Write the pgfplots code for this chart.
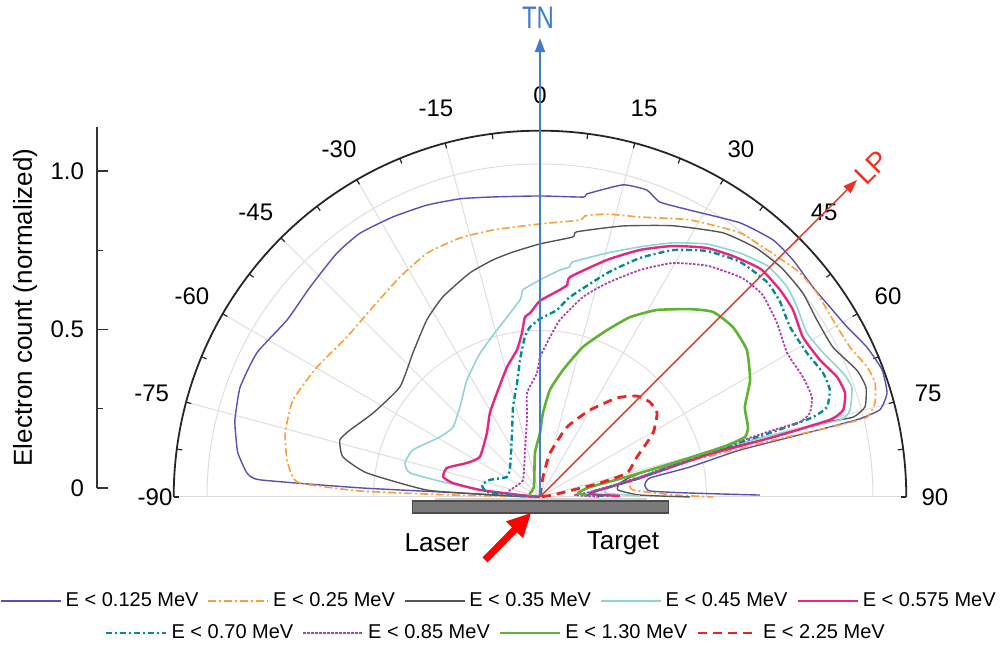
\documentclass[border=0pt]{standalone}
\usepackage{pgfplots}
\pgfplotsset{compat=1.18}
\usepackage{pgfplotstable}
\usepackage{fontspec}
\setmainfont{Liberation Sans}
\usetikzlibrary{arrows.meta}

\definecolor{cA}{RGB}{88,80,178}
\definecolor{cB}{RGB}{246,160,55}
\definecolor{cC}{RGB}{85,85,85}
\definecolor{cD}{RGB}{145,212,215}
\definecolor{cE}{RGB}{232,38,128}
\definecolor{cF}{RGB}{0,140,145}
\definecolor{cG}{RGB}{170,65,175}
\definecolor{cH}{RGB}{95,178,50}
\definecolor{cI}{RGB}{235,35,35}
\definecolor{tnblue}{RGB}{65,125,200}
\definecolor{lpred}{RGB}{235,50,40}
\definecolor{gridc}{RGB}{222,222,222}

\pgfplotsset{
  sA/.style={cA, line width=0.7pt, solid},
  sB/.style={cB, line width=0.8pt, dash pattern=on 4pt off 1.5pt on 1pt off 1.5pt},
  sC/.style={cC, line width=0.7pt, solid},
  sD/.style={cD, line width=0.8pt, solid},
  sE/.style={cE, line width=1.2pt, solid},
  sF/.style={cF, line width=1.2pt, dash pattern=on 3pt off 1.5pt on 1pt off 1.5pt},
  sG/.style={cG, line width=0.9pt, dash pattern=on 1.2pt off 0.8pt},
  sH/.style={cH, line width=1.3pt, solid},
  sI/.style={cI, line width=1.4pt, dash pattern=on 4.5pt off 3pt},
  /pgfplots/table/polarrows/.style={x expr={\thisrow{r}*sin(\thisrow{t})}, y expr={\thisrow{r}*cos(\thisrow{t})}},
}

% angle t in degrees (0 = target normal, positive to the right), r = normalized count
\pgfplotstableread{
t r
-89.5 0.00
-88.0 0.08
-87.1 0.241
-87.1 0.541
-86.5 0.842
-85.3 0.883
-81.7 0.917
-78.8 0.931
-75.8 0.945
-69.9 0.959
-63.0 0.954
-55.0 0.927
-47.6 0.935
-39.8 0.953
-34.3 0.959
-27.7 0.950
-21.2 0.940
-15.0 0.927
-8.9 0.912
0.0 0.904
8.2 0.910
8.8 0.921
14.9 0.970
19.2 0.976
22.1 0.956
27.6 0.972
36.1 1.019
42.2 1.042
46.9 1.041
52.4 1.034
56.8 1.041
61.0 1.054
65.4 1.080
69.6 1.096
73.3 1.088
75.6 1.054
76.3 0.980
76.5 0.825
76.8 0.617
78.7 0.459
80.2 0.335
83.5 0.317
86.9 0.331
88.5 0.451
89.5 0.660
}\tA

\pgfplotstableread{
t r
-89.5 0.00
-88.7 0.261
-88.1 0.541
-86.7 0.722
-84.9 0.748
-81.7 0.768
-75.9 0.789
-68.6 0.797
-59.8 0.775
-50.3 0.753
-41.3 0.760
-32.5 0.783
-24.8 0.807
-17.2 0.814
-10.0 0.814
0.0 0.820
8.2 0.840
9.1 0.855
13.3 0.873
19.7 0.893
28.4 0.946
37.1 0.995
43.3 1.010
48.9 1.030
53.6 1.033
58.9 1.028
64.2 1.034
68.3 1.057
71.2 1.063
74.3 1.045
76.3 1.011
76.5 0.926
76.3 0.720
76.5 0.516
76.5 0.309
81.2 0.274
85.7 0.280
89.1 0.400
90.0 0.520
}\tB

\pgfplotstableread{
t r
-89.5 0.00
-87.6 0.141
-86.5 0.340
-82.1 0.525
-78.5 0.604
-74.1 0.625
-70.6 0.605
-63.3 0.561
-51.8 0.535
-41.4 0.577
-32.6 0.631
-25.9 0.668
-17.4 0.705
-11.2 0.726
-6.3 0.740
0.0 0.760
7.2 0.787
7.9 0.804
17.0 0.851
26.1 0.907
34.7 0.965
41.0 0.990
46.6 1.000
52.2 0.999
57.4 0.987
62.9 0.988
68.2 1.025
71.4 1.033
74.5 1.013
75.7 0.970
75.3 0.878
75.6 0.723
75.2 0.519
76.5 0.309
80.1 0.244
84.9 0.235
88.9 0.300
90.0 0.450
}\tC

\pgfplotstableread{
t r
-89.5 0.00
-84.7 0.130
-81.4 0.282
-79.5 0.397
-75.9 0.418
-69.7 0.407
-59.0 0.350
-51.2 0.335
-41.6 0.362
-32.0 0.414
-22.6 0.468
-14.4 0.518
-5.8 0.595
-4.7 0.624
0.0 0.652
5.0 0.684
7.4 0.697
7.8 0.712
15.4 0.760
21.8 0.809
27.6 0.861
33.4 0.910
39.3 0.947
44.6 0.974
49.6 0.974
53.5 0.960
58.4 0.941
63.0 0.954
67.7 0.983
70.6 0.993
74.3 0.967
75.6 0.930
75.1 0.724
74.9 0.519
78.7 0.306
81.9 0.212
86.5 0.196
89.4 0.300
}\tD

\pgfplotstableread{
t r
-89.5 0.00
-84.3 0.06
-83.3 0.181
-80.9 0.265
-78.3 0.297
-72.7 0.293
-65.0 0.242
-56.3 0.217
-39.6 0.250
-30.8 0.294
-22.5 0.338
-14.2 0.403
-8.9 0.447
-6.3 0.495
-4.8 0.542
-3.1 0.553
0.0 0.589
5.5 0.625
7.3 0.642
7.8 0.667
15.8 0.740
22.0 0.800
27.9 0.853
33.8 0.900
38.7 0.927
44.1 0.953
49.2 0.952
53.5 0.945
58.7 0.924
63.9 0.936
68.0 0.962
71.2 0.968
74.0 0.947
75.1 0.901
75.6 0.723
75.9 0.517
79.2 0.306
83.3 0.181
86.6 0.150
89.3 0.240
}\tE

\pgfplotstableread{
t r
-89.5 0.00
-87.0 0.08
-84.6 0.160
-78.3 0.178
-71.2 0.159
-58.8 0.116
-45.0 0.127
-23.6 0.210
-16.7 0.282
-11.4 0.349
-8.3 0.416
-7.0 0.445
-5.4 0.483
-3.4 0.511
0.0 0.535
5.2 0.564
8.5 0.607
16.7 0.702
22.7 0.778
28.3 0.842
34.2 0.893
40.4 0.927
46.6 0.939
50.9 0.929
55.8 0.908
61.7 0.911
66.3 0.928
69.7 0.928
72.6 0.903
73.7 0.854
74.4 0.726
75.2 0.519
79.2 0.306
83.8 0.166
87.5 0.135
89.2 0.210
}\tF

\pgfplotstableread{
t r
-89.0 0.00
-86.0 0.06
-83.1 0.100
-71.6 0.085
-45.0 0.072
-17.7 0.148
-9.2 0.243
-7.1 0.315
-1.4 0.372
0.0 0.420
3.6 0.481
6.4 0.535
12.1 0.614
17.4 0.673
23.8 0.745
29.6 0.808
36.0 0.858
42.7 0.895
47.7 0.903
53.7 0.883
59.8 0.859
65.5 0.868
69.8 0.870
72.7 0.849
73.9 0.813
74.0 0.728
75.0 0.519
78.7 0.306
84.3 0.151
86.7 0.105
90.0 0.180
}\tG

\pgfplotstableread{
t r
-85.0 0.03
-68.2 0.032
-31.0 0.035
-6.5 0.133
0.0 0.192
2.0 0.252
5.3 0.323
10.3 0.388
16.0 0.469
21.9 0.540
26.6 0.604
32.0 0.662
38.6 0.722
43.1 0.761
48.6 0.772
54.6 0.762
60.9 0.722
66.3 0.672
71.4 0.659
73.7 0.641
74.7 0.570
75.7 0.412
77.1 0.256
78.7 0.153
84.0 0.115
88.0 0.140
}\tH

\pgfplotstableread{
t r
1.0 0.00
8.5 0.061
12.8 0.135
21.1 0.225
29.9 0.301
37.9 0.377
43.8 0.420
49.2 0.436
54.3 0.433
60.5 0.390
67.6 0.315
74.6 0.271
76.9 0.185
78.0 0.101
81.3 0.040
85.0 0.00
}\tI

\begin{document}
\begin{tikzpicture}
\useasboundingbox (0pt,0pt) rectangle (501.5pt,326pt);

% ---------------- main polar-type axis (drawn in cartesian units) ----------------
\begin{axis}[
  at={(0pt,0pt)}, anchor=south west,
  scale only axis, x=166.5pt, y=166.5pt,
  xmin=-1.6216, xmax=1.3904, ymin=-0.4655, ymax=1.4925,
  enlargelimits=false, hide axis, clip=false,
  legend columns=5,
  legend image code/.code={\draw[#1] (0pt,0pt) -- (30pt,0pt);},
  legend style={draw=none, fill=none, at={(axis description cs:0.4985,0.0782)}, anchor=center,
    font=\fontsize{10}{12}\selectfont,
    /tikz/every even column/.append style={column sep=2.5pt}},
  every axis plot/.append style={line join=round, smooth, tension=0.3},
]
% grid
\draw[gridc, line width=0.5pt] (axis cs:0.5,0) arc[start angle=0, end angle=180, radius=83.25pt];
\draw[gridc, line width=0.5pt] (axis cs:1,0) arc[start angle=0, end angle=180, radius=166.5pt];
\pgfplotsinvokeforeach{-90,-75,...,90}{
  \draw[gridc, line width=0.5pt] (axis cs:0,0) -- (axis cs:{1.1*sin(#1)},{1.1*cos(#1)});
}
% outer arc and angular ticks
\draw[black!85, line width=0.9pt] (axis cs:1.1,0) arc[start angle=0, end angle=180, radius=183.15pt];
\pgfplotsinvokeforeach{-90,-82.5,...,90}{
  \draw[black!85, line width=0.6pt] (axis cs:{1.1*sin(#1)},{1.1*cos(#1)}) -- (axis cs:{1.084*sin(#1)},{1.084*cos(#1)});
}
% angular tick labels
\pgfplotsinvokeforeach{-75,-60,...,75}{
  \node[font=\fontsize{12}{14}\selectfont, anchor=center, inner sep=0pt] at (axis cs:{1.207*sin(#1)},{1.207*cos(#1)}) {#1};
}
\node[font=\fontsize{12}{14}\selectfont, anchor=center, inner sep=0pt] at (axis cs:-1.156,0) {-90};
\node[font=\fontsize{12}{14}\selectfont, anchor=center, inner sep=0pt] at (axis cs:1.186,0) {90};

% data
\addplot[sA] table[polarrows] {\tA}; \addlegendentry{E < 0.125 MeV}
\addplot[sB] table[polarrows] {\tB}; \addlegendentry{E < 0.25 MeV}
\addplot[sC] table[polarrows] {\tC}; \addlegendentry{E < 0.35 MeV}
\addplot[sD] table[polarrows] {\tD}; \addlegendentry{E < 0.45 MeV}
\addplot[sE] table[polarrows] {\tE}; \addlegendentry{E < 0.575 MeV}
\addplot[sF] table[polarrows] {\tF};
\addplot[sG] table[polarrows] {\tG};
\addplot[sH] table[polarrows] {\tH};
\addplot[sI] table[polarrows] {\tI};

% target normal and laser polarisation directions
\draw[tnblue, line width=1pt, -{Triangle[length=7pt,width=5pt]}] (axis cs:0,0) -- (axis cs:0,1.378);
\node[tnblue, font=\fontsize{12}{14}\selectfont, yscale=1.3, inner sep=0pt] at (axis cs:-0.006,1.438) {TN};
\draw[lpred, line width=0.7pt, -{Triangle[length=7pt,width=5pt]}] (axis cs:0,0) -- (axis cs:0.952,0.952);
\node[lpred, font=\fontsize{14}{16}\selectfont, rotate=45, inner sep=0pt] at (axis cs:0.995,0.990) {LP};

% target and laser
\fill[gray!35] (axis cs:-0.315,-0.002) rectangle (axis cs:0.321,-0.012);
\draw[black!70, fill=black!52, line width=0.6pt] (axis cs:-0.384,-0.012) rectangle (axis cs:0.387,-0.048);
\draw[red, line width=3.5pt, -{Triangle[length=12pt,width=11pt]}] (axis cs:-0.165,-0.189) -- (axis cs:-0.026,-0.047);
\node[font=\fontsize{13}{15}\selectfont] at (axis cs:-0.309,-0.138) {Laser};
\node[font=\fontsize{13}{15}\selectfont] at (axis cs:0.249,-0.138) {Target};
\end{axis}

% ---------------- second legend row ----------------
\begin{axis}[
  at={(0pt,0pt)}, anchor=south west,
  scale only axis, width=501.5pt, height=326pt,
  xmin=0, xmax=1, ymin=0, ymax=1, hide axis,
  legend columns=4,
  legend image code/.code={\draw[#1] (0pt,0pt) -- (30pt,0pt);},
  legend style={draw=none, fill=none, at={(axis description cs:0.4955,0.029)}, anchor=center,
    font=\fontsize{10}{12}\selectfont,
    /tikz/every even column/.append style={column sep=2.5pt}},
]
\addlegendimage{sF}\addlegendentry{E < 0.70 MeV}
\addlegendimage{sG}\addlegendentry{E < 0.85 MeV}
\addlegendimage{sH}\addlegendentry{E < 1.30 MeV}
\addlegendimage{sI}\addlegendentry{E < 2.25 MeV}
\end{axis}

% ---------------- radial scale on the left ----------------
\begin{axis}[
  at={(48.5pt,82pt)}, anchor=south west,
  scale only axis, width=1pt, height=180.5pt,
  xmin=0, xmax=1, ymin=0, ymax=1.139,
  axis x line=none, axis y line*=left, xtick=\empty,
  ytick={0,0.5,1}, yticklabels={0,0.5,1.0},
  minor ytick={0.25,0.75},
  tick align=inside, major tick length=5.5pt, minor tick length=3pt,
  tick style={black!80, line width=0.6pt},
  axis line style={black!80, line width=0.8pt},
  yticklabel style={font=\fontsize{12}{14}\selectfont, xshift=-3pt},
  ylabel={Electron count (normalized)},
  ylabel style={font=\fontsize{13}{15}\selectfont, at={(axis description cs:-36,0.5)}, anchor=center},
]
\end{axis}
\end{tikzpicture}
\end{document}
